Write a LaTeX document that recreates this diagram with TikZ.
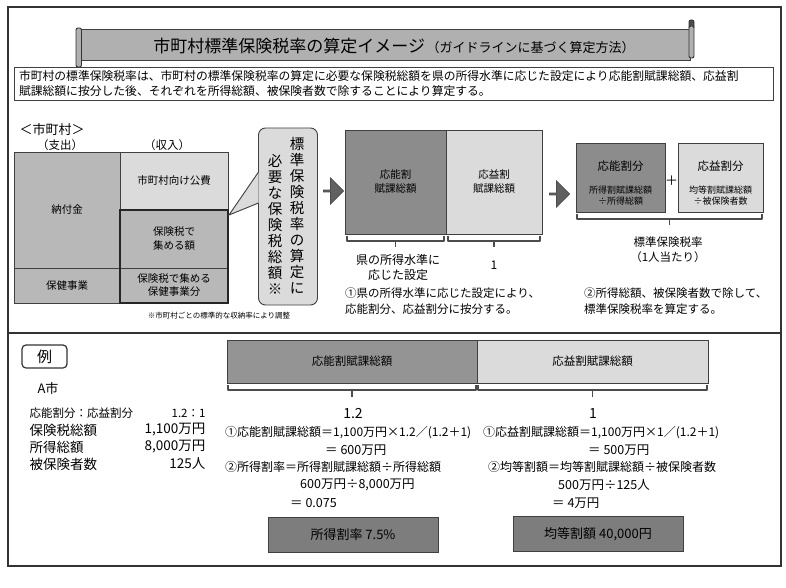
\documentclass[tikz,border=0pt]{standalone}
\usepackage{fontspec}
\setmainfont{Noto Sans CJK JP}
\usepackage{xcolor}
\usetikzlibrary{positioning,shapes.arrows}

\definecolor{dkgray}{gray}{0.55}
\definecolor{mdgray}{gray}{0.72}
\definecolor{ltgray}{gray}{0.86}
\definecolor{bargray}{gray}{0.69}
\definecolor{resgray}{gray}{0.49}
\definecolor{brgray}{gray}{0.3}
\newcommand{\fs}[2]{\fontsize{#1}{#2}\selectfont}

\tikzset{
  box/.style={draw=black!75, line width=0.9pt, inner sep=0pt},
  dk/.style={box, fill=dkgray},
  md/.style={box, fill=mdgray},
  lt/.style={box, fill=ltgray},
  brline/.style={brgray, line width=1.4pt, line join=round},
  blockarrow/.style={single arrow, fill=black!62, draw=black!70, line width=0.8pt, minimum height=20pt,
    minimum width=26pt, single arrow head extend=5pt, inner sep=0pt},
}

\begin{document}
\begin{tikzpicture}[x=1pt,y=-1pt]
            \useasboundingbox[fill=white] (0,0) rectangle (786,588);
            \draw[line width=1.8pt, black!80] (8,7) rectangle (781,566);

            \node[box, fill=bargray, minimum width=610, minimum height=31] (banner) at (385,44.5) {};
            \draw[fill=bargray, draw=black!80, line width=0.9pt, rounded corners=2pt] (76,28) rectangle (81.5,67);
            \draw[fill=black!70, draw=black!80, line width=0.9pt, rounded corners=2pt] (689,20) rectangle (694,29);
            \draw[fill=bargray, draw=black!80, line width=0.9pt, rounded corners=2pt] (689,26) rectangle (694,58);
            \node (title) at (394,46) {{\fs{17}{17}市町村標準保険税率の算定イメージ}\,{\fs{13}{13}（ガイドラインに基づく算定方法）}};

            \node[box, minimum width=759, minimum height=33, text width=749, align=left,
              font=\fs{11.8}{15}] (desc) at (393.5,84)
              {市町村の標準保険税率は、市町村の標準保険税率の算定に必要な保険税総額を県の所得水準に応じた設定により応能割賦課総額、応益割\\賦課総額に按分した後、それぞれを所得総額、被保険者数で除することにより算定する。};

            \node[font=\fs{13}{13}, anchor=west] (city) at (16,130) {＜市町村＞};
            \node[font=\fs{11.5}{12}] (shishutsu) at (60,145) {（支出）};
            \node[font=\fs{11.5}{12}] (shunyu) at (167,145) {（収入）};

            \node[md, minimum width=106, minimum height=116, font=\fs{10.5}{12}] (nofu) at (67,210) {納付金};
            \node[md, minimum width=106, minimum height=35, font=\fs{10.5}{12}] (hoken1) at (67,285.5) {保健事業};
            \node[lt, minimum width=108, minimum height=58, font=\fs{10.5}{12}] (kohi) at (174,181) {市町村向け公費};
            \node[md, minimum width=108, minimum height=58, font=\fs{10.5}{14}, align=center] (gaku) at (174,239) {保険税で\\集める額};
            \node[md, minimum width=108, minimum height=35, font=\fs{10.5}{13}, align=center] (hoken2) at (174,285.5) {保険税で集める\\保健事業分};
            \draw[line width=2pt, black!85] (gaku.north west) rectangle (hoken2.south east);
            \node[font=\fs{7.5}{8}] (note) at (219,316) {※市町村ごとの標準的な収納率により調整};

            \node[box, fill=ltgray, rounded corners=7pt, minimum width=59, minimum height=177] (bubble) at (288,216.5) {};
            \coordinate (tip) at (229,215);
            \fill[ltgray] (258.6,172) -- (tip) -- (258.6,203) -- cycle;
            \draw[black!75, line width=0.9pt] (258.5,172) -- (tip) -- (258.5,203);
            \node[font=\fs{14.5}{16}, align=center, inner sep=0pt] (tateA) at (297,216) {標\\準\\保\\険\\税\\率\\の\\算\\定\\に};
            \node[font=\fs{14.5}{16}, align=center, inner sep=0pt] (tateB) at (275,224) {必\\要\\な\\保\\険\\税\\総\\額\\※};

            \node[blockarrow] (arr1) at (333,191) {};

            \node[dk, minimum width=101, minimum height=104, font=\fs{10.5}{14}, align=center] (ono) at (395.5,182) {応能割\\賦課総額};
            \node[lt, minimum width=96, minimum height=104, font=\fs{10.5}{14}, align=center] (eki) at (494,182) {応益割\\賦課総額};
            \draw[brline] (347,236) -- (347,241) -- (444,241) -- (444,236);
            \draw[brline] (395.5,241) -- (395.5,247);
            \draw[brline] (448,236) -- (448,241) -- (540,241) -- (540,236);
            \draw[brline] (494,241) -- (494,247);
            \node[font=\fs{12}{15}, align=center] (kenlbl) at (398,267) {県の所得水準に\\応じた設定};
            \node[font=\fs{12}{15}] (eki1) at (494,265) {1};
            \node[font=\fs{11.5}{16}, align=left, anchor=north west, inner sep=0pt] (step1) at (345,288) {①県の所得水準に応じた設定により、\\応能割分、応益割分に按分する。};

            \node[blockarrow] (arr2) at (559,194) {};

            \node[dk, minimum width=89, minimum height=69] (onob) at (620.5,177.5) {};
            \node[lt, minimum width=85, minimum height=69] (ekib) at (720.5,177.5) {};
            \node[font=\fs{11.5}{12}] (onot) at (620.5,166) {応能割分};
            \node[font=\fs{9}{11}, align=center] (onos) at (620.5,196) {所得割賦課総額\\÷所得総額};
            \node[font=\fs{11.5}{12}] (ekit) at (720.5,166) {応益割分};
            \node[font=\fs{9}{11}, align=center] (ekis) at (720.5,196) {均等割賦課総額\\÷被保険者数};
            \node[font=\fs{13}{13}] (plus) at (671.5,181) {＋};
            \draw[brline] (577,214) -- (577,219) -- (762,219) -- (762,214);
            \draw[brline] (669.5,219) -- (669.5,225);
            \node[font=\fs{11.5}{15}, align=center] (rate) at (668,250) {標準保険税率\\（1人当たり）};
            \node[font=\fs{11.5}{16}, align=left, anchor=north west, inner sep=0pt] (step2) at (584,288) {②所得総額、被保険者数で除して、\\標準保険税率を算定する。};

            \draw[line width=1.5pt, black!80] (8,333) -- (781,333);

            \node[draw=black!80, line width=1.2pt, rounded corners=4pt, minimum width=45, minimum height=23,
              inner sep=0pt, font=\fs{15}{15}] (rei) at (44.5,356.5) {例};
            \node[font=\fs{13}{13}] (acity) at (48,389) {A市};
            \node[font=\fs{11.5}{12}, anchor=west] (hiritsu) at (26,413) {応能割分：応益割分};
            \node[font=\fs{11.5}{12}, anchor=east] (hiritsuv) at (209,413) {1.2：1};
            \node[font=\fs{13.5}{14}, anchor=west] (zeigaku) at (26,430) {保険税総額};
            \node[font=\fs{13.5}{14}, anchor=east] (zeigakuv) at (209,430) {1,100万円};
            \node[font=\fs{13.5}{14}, anchor=west] (shotoku) at (26,447) {所得総額};
            \node[font=\fs{13.5}{14}, anchor=east] (shotokuv) at (209,447) {8,000万円};
            \node[font=\fs{13.5}{14}, anchor=west] (hihoken) at (26,464) {被保険者数};
            \node[font=\fs{13.5}{14}, anchor=east] (hihokenv) at (209,464) {125人};

            \node[box, fill=black!42, minimum width=250, minimum height=43, font=\fs{11.5}{12}] (onobar) at (352,361.5) {応能割賦課総額};
            \node[box, fill=ltgray, minimum width=231, minimum height=43, font=\fs{11.5}{12}] (ekibar) at (592.5,361.5) {応益割賦課総額};
            \draw[brline] (228,385) -- (228,390) -- (476,390) -- (476,385);
            \draw[brline] (352,390) -- (352,397);
            \draw[brline] (478,385) -- (478,390) -- (707,390) -- (707,385);
            \draw[brline] (592.5,390) -- (592.5,397);
            \node[font=\fs{14}{14}] (w12) at (353,414) {1.2};
            \node[font=\fs{14}{14}] (w1) at (593,414) {1};

            \node[font=\fs{12}{12}, anchor=west, inner sep=0pt] (fa1) at (225,433) {①応能割賦課総額＝1,100万円×1.2／(1.2＋1)};
            \node[font=\fs{12.5}{13}, anchor=west, inner sep=0pt] (fa2) at (325,450) {＝ 600万円};
            \node[font=\fs{12}{12}, anchor=west, inner sep=0pt] (fa3) at (225,467) {②所得割率＝所得割賦課総額÷所得総額};
            \node[font=\fs{12.5}{13}, anchor=west, inner sep=0pt] (fa4) at (300,485) {600万円÷8,000万円};
            \node[font=\fs{12.5}{13}, anchor=west, inner sep=0pt] (fa5) at (290,503) {＝ 0.075};
            \node[font=\fs{12}{12}, anchor=west, inner sep=0pt] (fb1) at (483,433) {①応益割賦課総額＝1,100万円×1／(1.2＋1)};
            \node[font=\fs{12.5}{13}, anchor=west, inner sep=0pt] (fb2) at (588,450) {＝ 500万円};
            \node[font=\fs{12}{12}, anchor=west, inner sep=0pt] (fb3) at (488,467) {②均等割額＝均等割賦課総額÷被保険者数};
            \node[font=\fs{12.5}{13}, anchor=west, inner sep=0pt] (fb4) at (558,485) {500万円÷125人};
            \node[font=\fs{12.5}{13}, anchor=west, inner sep=0pt] (fb5) at (552,503) {＝ 4万円};

            \node[box, fill=resgray, minimum width=170, minimum height=35, font=\fs{13}{13}] (res1) at (353,534.5) {所得割率\ 7.5\%};
            \node[box, fill=resgray, minimum width=170, minimum height=35, font=\fs{13}{13}] (res2) at (598,534) {均等割額\ 40,000円};
          \end{tikzpicture}
\end{document}
